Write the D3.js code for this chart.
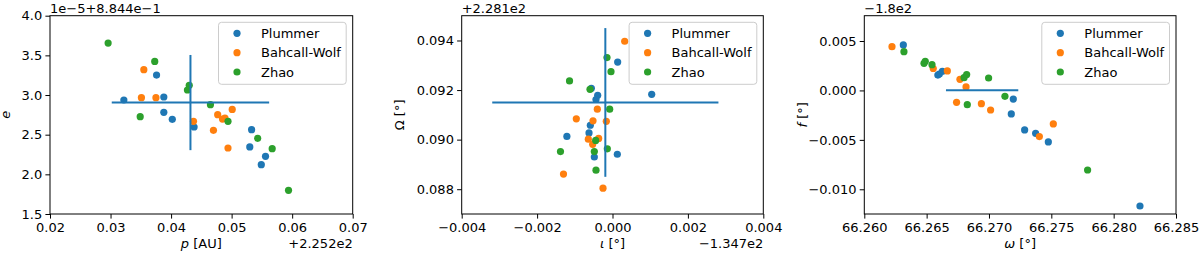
<!DOCTYPE html>
<html><head><meta charset="utf-8">
<script src="https://cdn.jsdelivr.net/npm/d3@7"></script>
<style>body{margin:0;background:#fff}svg{display:block;font-family:"DejaVu Sans",sans-serif}</style>
</head><body><svg id="c" width="1200" height="258"></svg>
<script>
const seriesNames = ["Plummer", "Bahcall-Wolf", "Zhao"];
const seriesColors = ["#1f77b4", "#ff7f0e", "#2ca02c"];

// Panel 1: p (offset +2.252e2) vs e (1e-5 + 8.844e-1)
const p1Plummer = [[0.0322,2.937],[0.0376,3.252],[0.0388,2.975],[0.0388,2.782],[0.0402,2.693],[0.0438,2.597],[0.0533,2.563],[0.0530,2.345],[0.0556,2.227],[0.0549,2.122]];
const p1Bahcall = [[0.0355,3.319],[0.0351,2.966],[0.0375,2.966],[0.0437,2.668],[0.0477,2.752],[0.0485,2.697],[0.0489,2.710],[0.0501,2.819],[0.0470,2.555],[0.0494,2.332]];
const p1Zhao = [[0.0296,3.655],[0.0373,3.424],[0.0430,3.122],[0.0427,3.063],[0.0349,2.727],[0.0465,2.878],[0.0494,2.668],[0.0543,2.454],[0.0567,2.324],[0.0594,1.798]];
const p1ErrCenter = [0.0432, 2.905];
const p1ErrSize = [0.0130, 0.600];
const p1XTicks = [0.02,0.03,0.04,0.05,0.06,0.07];
const p1XLabels = ["0.02","0.03","0.04","0.05","0.06","0.07"];
const p1YTicks = [1.5,2.0,2.5,3.0,3.5,4.0];
const p1YLabels = ["1.5","2.0","2.5","3.0","3.5","4.0"];

// Panel 2: iota (offset -1.347e2) vs Omega (offset +2.281e2)
const p2Plummer = [[0.000137,0.09313],[0.00104,0.09183],[-0.000561,0.09207],[-0.000393,0.09179],[-0.000438,0.09162],[-0.000588,0.09058],[-0.000623,0.09027],[-0.00121,0.09013],[-0.000482,0.08930],[0.000128,0.08941]];
const p2Bahcall = [[0.000323,0.09397],[-0.000402,0.09123],[-0.00096,0.09084],[-0.000517,0.09076],[-0.000164,0.09074],[-0.000641,0.09002],[-0.000367,0.09005],[-0.000526,0.08981],[-0.00130,0.08861],[-0.000252,0.08804]];
const p2Zhao = [[-0.000146,0.09331],[-0.00004,0.09274],[-0.00114,0.09237],[-0.000597,0.09203],[-0.000075,0.09123],[-0.000446,0.08997],[-0.00138,0.08952],[-0.000482,0.08952],[-0.000137,0.08963],[-0.000438,0.08877]];
const p2ErrCenter = [-0.00019, 0.0915];
const p2ErrSize = [0.0030, 0.0030];
const p2XTicks = [-0.004,-0.002,0,0.002,0.004];
const p2XLabels = ["\u22120.004","\u22120.002","0.000","0.002","0.004"];
const p2YTicks = [0.088,0.090,0.092,0.094];
const p2YLabels = ["0.088","0.090","0.092","0.094"];

// Panel 3: omega vs f (offset -1.8e2)
const p3Plummer = [[66.26313,0.00460],[66.26590,0.00155],[66.26602,0.00166],[66.26626,0.00194],[66.27195,-0.00087],[66.27179,-0.00238],[66.27286,-0.00400],[66.27374,-0.00434],[66.27476,-0.00521],[66.28211,-0.01169]];
const p3Bahcall = [[66.26222,0.00443],[66.26553,0.00222],[66.26666,0.00197],[66.26767,0.00112],[66.26816,0.00035],[66.26740,-0.00120],[66.26939,-0.00134],[66.27013,-0.00198],[66.27404,-0.00467],[66.27516,-0.00339]];
const p3Zhao = [[66.26318,0.00392],[66.26479,0.00274],[66.26489,0.00294],[66.26543,0.00261],[66.26800,0.00129],[66.26821,0.00160],[66.26997,0.00126],[66.27128,-0.00060],[66.26826,-0.00144],[66.27791,-0.00805]];
const p3ErrCenter = [66.26945, 0.00003];
const p3ErrSize = [0.0029, 0.0];
const p3XTicks = [66.260,66.265,66.270,66.275,66.280,66.285];
const p3XLabels = ["66.260","66.265","66.270","66.275","66.280","66.285"];
const p3YTicks = [-0.010,-0.005,0,0.005];
const p3YLabels = ["\u22120.010","\u22120.005","0.000","0.005"];

const panels = [
  {series:[p1Plummer,p1Bahcall,p1Zhao], err:[p1ErrCenter,p1ErrSize], xd:[0.02,0.07], yd:[1.5,4.0],
   xt:p1XTicks, xl:p1XLabels, yt:p1YTicks, yl:p1YLabels, left:50, right:352.7,
   topOffset:"1e\u22125+8.844e\u22121", botOffset:"+2.252e2",
   xlab:[["p",true],[" [AU]",false]], ylab:[["e",true]], ylabX:9.5},
  {series:[p2Plummer,p2Bahcall,p2Zhao], err:[p2ErrCenter,p2ErrSize], xd:[-0.004,0.004], yd:[0.087,0.095],
   xt:p2XTicks, xl:p2XLabels, yt:p2YTicks, yl:p2YLabels, left:461.7, right:763.3,
   topOffset:"+2.281e2", botOffset:"\u22121.347e2",
   xlab:[["\u03B9",true],[" [\u00B0]",false]], ylab:[["\u03A9",false],[" [\u00B0]",false]], ylabX:404},
  {series:[p3Plummer,p3Bahcall,p3Zhao], err:[p3ErrCenter,p3ErrSize], xd:[66.260,66.285], yd:[-0.0125,0.00756],
   xt:p3XTicks, xl:p3XLabels, yt:p3YTicks, yl:p3YLabels, left:864.3, right:1176,
   topOffset:"\u22121.8e2", botOffset:"",
   xlab:[["\u03C9",true],[" [\u00B0]",false]], ylab:[["f",true],[" [\u00B0]",false]], ylabX:807}
];

const svg = d3.select("#c");
const axTop = 15.7, axBottom = 214, FS = 13, R = 3.6;

panels.forEach(p => {
  const x = d3.scaleLinear().domain(p.xd).range([p.left, p.right]);
  const y = d3.scaleLinear().domain(p.yd).range([axBottom, axTop]);
  const g = svg.append("g");

  // scatter points
  p.series.forEach((s, i) => {
    g.append("g").selectAll("circle").data(s).join("circle")
      .attr("cx", d => x(d[0])).attr("cy", d => y(d[1])).attr("r", R)
      .attr("fill", seriesColors[i]);
  });

  // error bars (drawn above points as in matplotlib)
  const [c, e] = p.err;
  const eg = g.append("g").attr("stroke", "#1f77b4").attr("stroke-width", 2);
  eg.append("line").attr("x1", x(c[0]-e[0])).attr("x2", x(c[0]+e[0])).attr("y1", y(c[1])).attr("y2", y(c[1]));
  if (e[1] > 0) eg.append("line").attr("x1", x(c[0])).attr("x2", x(c[0])).attr("y1", y(c[1]-e[1])).attr("y2", y(c[1]+e[1]));

  // frame
  g.append("rect").attr("x", p.left).attr("y", axTop).attr("width", p.right-p.left).attr("height", axBottom-axTop)
    .attr("fill", "none").attr("stroke", "#000").attr("stroke-width", 1);

  // axes
  const xa = g.append("g").attr("transform", `translate(0,${axBottom})`)
    .call(d3.axisBottom(x).tickValues(p.xt).tickFormat((d,i) => p.xl[i]).tickSize(4.6).tickPadding(3.7).tickSizeOuter(0));
  const ya = g.append("g").attr("transform", `translate(${p.left},0)`)
    .call(d3.axisLeft(y).tickValues(p.yt).tickFormat((d,i) => p.yl[i]).tickSize(4.6).tickPadding(3.2).tickSizeOuter(0));
  [xa, ya].forEach(a => {
    a.select(".domain").remove();
    a.selectAll("text").attr("font-size", FS).attr("fill", "#000").attr("font-family", '"DejaVu Sans"');
    a.selectAll("line").attr("stroke", "#000").attr("stroke-width", 1);
  });

  // offset texts
  g.append("text").attr("x", p.left).attr("y", 13).attr("font-size", FS).text(p.topOffset);
  if (p.botOffset) g.append("text").attr("x", p.right).attr("y", 248).attr("text-anchor", "end").attr("font-size", FS).text(p.botOffset);

  // axis labels
  const xl = g.append("text").attr("x", (p.left+p.right)/2).attr("y", 248).attr("text-anchor", "middle").attr("font-size", FS);
  p.xlab.forEach(([t, it]) => xl.append("tspan").attr("font-style", it ? "italic" : "normal").text(t));
  const yl = g.append("text").attr("transform", `translate(${p.ylabX},${(axTop+axBottom)/2}) rotate(-90)`)
    .attr("text-anchor", "middle").attr("font-size", FS);
  p.ylab.forEach(([t, it]) => yl.append("tspan").attr("font-style", it ? "italic" : "normal").text(t));

  // legend
  const lw = 127.7, lh = 62, lx = p.right - 6.5 - lw, ly = 22.3;
  const lg = g.append("g");
  lg.append("rect").attr("x", lx).attr("y", ly).attr("width", lw).attr("height", lh).attr("rx", 3)
    .attr("fill", "#fff").attr("fill-opacity", 0.8).attr("stroke", "#cccccc").attr("stroke-width", 1);
  seriesNames.forEach((n, i) => {
    const cy = ly + 11 + i * 19.35;
    lg.append("circle").attr("cx", lx + 18.5).attr("cy", cy).attr("r", R).attr("fill", seriesColors[i]);
    lg.append("text").attr("x", lx + 42.5).attr("y", cy + 4.7).attr("font-size", FS).text(n);
  });
});
</script></body></html>
